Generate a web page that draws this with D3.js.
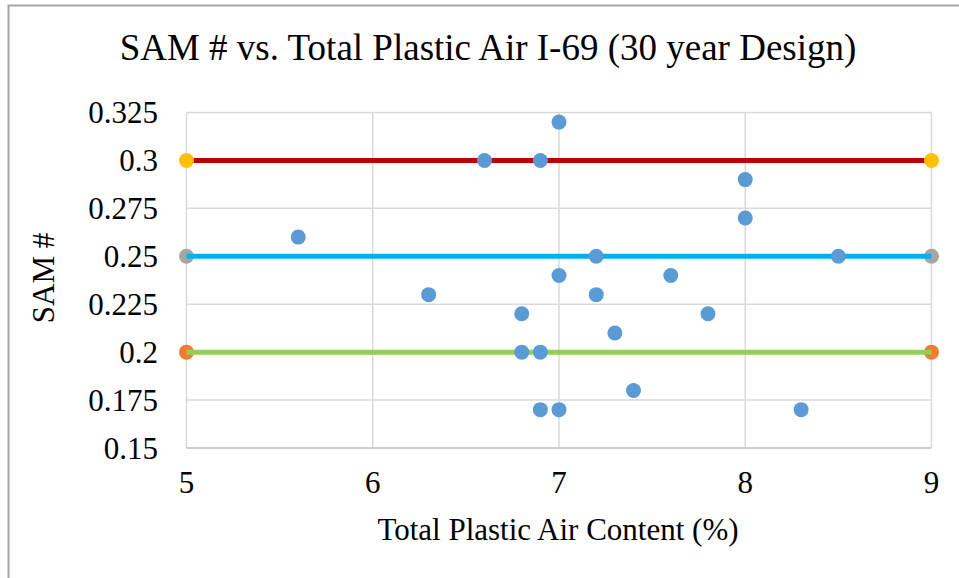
<!DOCTYPE html>
<html>
<head>
<meta charset="utf-8">
<script src="https://cdn.jsdelivr.net/npm/d3@7"></script>
<style>
  body { margin: 0; background: #fff; }
</style>
</head>
<body>
<div id="chart"></div>
<script>
// measured points: air content (%) vs SAM #
var airContent = [5.6, 6.3, 6.6, 6.8, 6.8, 6.9, 6.9, 6.9, 7.0, 7.0, 7.0, 7.2, 7.2, 7.3, 7.4, 7.6, 7.8, 8.0, 8.0, 8.3, 8.5];
var samValues  = [0.26, 0.23, 0.30, 0.22, 0.20, 0.30, 0.20, 0.17, 0.32, 0.24, 0.17, 0.25, 0.23, 0.21, 0.18, 0.24, 0.22, 0.29, 0.27, 0.17, 0.25];

// horizontal limit lines
var limitValues = [0.3, 0.25, 0.2];
var limitX = [5, 9];

var xTicks = [5, 6, 7, 8, 9];
var yTicks = [0.15, 0.175, 0.2, 0.225, 0.25, 0.275, 0.3, 0.325];

var width = 959,
    height = 578;

var svg = d3.select('#chart').append('svg')
    .attr('width', width)
    .attr('height', height)
    .attr('font-family', "'Liberation Serif', 'Times New Roman', Tinos, 'DejaVu Serif', serif");

// chart frame (cut off at right and bottom in the original)
svg.append('path')
    .attr('d', 'M8.5,' + height + 'V5.5H' + width)
    .attr('fill', 'none')
    .attr('stroke', '#a6a6a6')
    .attr('stroke-width', 2);

var x = d3.scaleLinear().domain([5, 9]).range([186.5, 931.5]);
var y = d3.scaleLinear().domain([0.15, 0.325]).range([448, 112.5]);

// gridlines
svg.append('g').selectAll('line.gx')
    .data(xTicks)
    .enter().append('line')
    .attr('x1', function (d) { return x(d); })
    .attr('x2', function (d) { return x(d); })
    .attr('y1', y(0.325))
    .attr('y2', y(0.15))
    .attr('stroke', '#d9d9d9')
    .attr('stroke-width', 1.5);

svg.append('g').selectAll('line.gy')
    .data(yTicks)
    .enter().append('line')
    .attr('x1', x(5))
    .attr('x2', x(9))
    .attr('y1', function (d) { return y(d); })
    .attr('y2', function (d) { return y(d); })
    .attr('stroke', function (d) { return d == 0.15 ? '#bfbfbf' : '#d9d9d9'; })
    .attr('stroke-width', 1.5);

// tick labels
var fmt = function (d) { return String(+d.toFixed(3)); };
svg.append('g').selectAll('text')
    .data(yTicks)
    .enter().append('text')
    .attr('x', 158)
    .attr('y', function (d) { return y(d); })
    .attr('dy', '0.34em')
    .attr('text-anchor', 'end')
    .attr('font-size', 31)
    .text(fmt);

svg.append('g').selectAll('text')
    .data(xTicks)
    .enter().append('text')
    .attr('x', function (d) { return x(d); })
    .attr('y', 493)
    .attr('text-anchor', 'middle')
    .attr('font-size', 31)
    .text(fmt);

// limit lines with end markers
var lineColors = ['#c00000', '#00b0f0', '#92d050'];
var markColors = ['#ffc000', '#a5a5a5', '#ed7d31'];
var lineGen = d3.line()
    .x(function (d) { return x(d[0]); })
    .y(function (d) { return y(d[1]); });

limitValues.forEach(function (v, i) {
    var pts = limitX.map(function (xv) { return [xv, v]; });
    var g = svg.append('g');
    var drawLine = function () {
        g.append('path')
            .attr('d', lineGen(pts))
            .attr('fill', 'none')
            .attr('stroke', lineColors[i])
            .attr('stroke-width', 5);
    };
    var drawMarks = function () {
        g.selectAll('circle').data(pts).enter().append('circle')
            .attr('cx', function (d) { return x(d[0]); })
            .attr('cy', function (d) { return y(d[1]); })
            .attr('r', 7.5)
            .attr('fill', markColors[i]);
    };
    // first series shows its markers over the line, others the reverse
    if (i > 0) { drawMarks(); drawLine(); }
    else { drawLine(); drawMarks(); }
});

// data points
svg.append('g').selectAll('circle')
    .data(airContent)
    .enter().append('circle')
    .attr('cx', function (d) { return x(d); })
    .attr('cy', function (d, i) { return y(samValues[i]); })
    .attr('r', 7.5)
    .attr('fill', '#5b9bd5');

// titles
svg.append('text')
    .attr('x', 488)
    .attr('y', 60)
    .attr('text-anchor', 'middle')
    .attr('font-size', 37)
    .text('SAM # vs. Total Plastic Air I-69 (30 year Design)');

svg.append('text')
    .attr('x', 558)
    .attr('y', 540)
    .attr('text-anchor', 'middle')
    .attr('font-size', 31)
    .text('Total Plastic Air Content (%)');

svg.append('text')
    .attr('transform', 'translate(54,278) rotate(-90)')
    .attr('text-anchor', 'middle')
    .attr('font-size', 31)
    .text('SAM #');
</script>
</body>
</html>
